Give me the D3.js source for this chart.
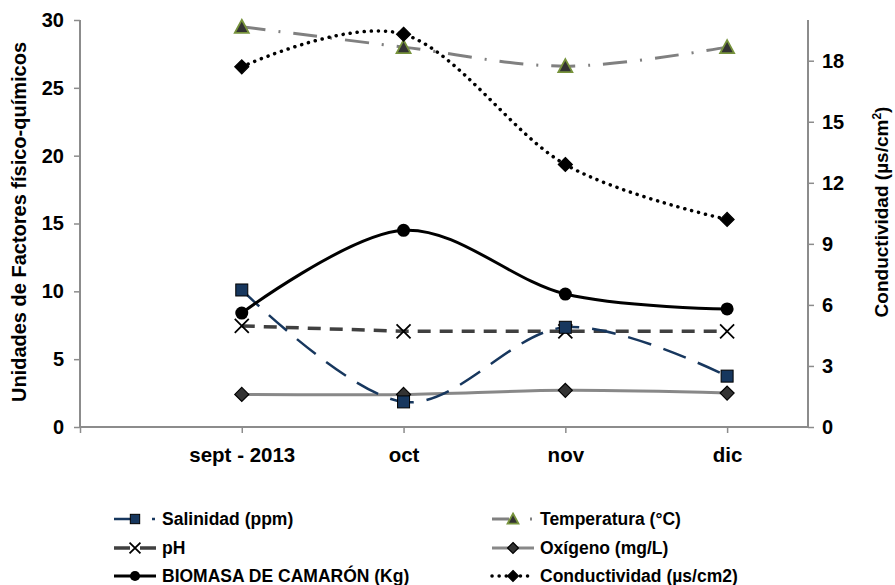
<!DOCTYPE html>
<html><head><meta charset="utf-8">
<script src="https://cdn.jsdelivr.net/npm/d3@7"></script>
<style>body{margin:0;background:#fff}svg text{font-family:"Liberation Sans",Arial,sans-serif;font-weight:bold}</style>
</head><body><svg id="c" width="895" height="585"></svg>
<script>
const categories = ["sept - 2013","oct","nov","dic"];
const salinidad = [10.1,1.85,7.35,3.75];
const temperatura = [29.5,28.0,26.6,28.0];
const ph = [7.45,7.05,7.05,7.05];
const oxigeno = [2.4,2.4,2.7,2.5];
const biomasa = [8.4,14.5,9.8,8.7];
const conductividad = [17.7,19.3,12.9,10.2];
const leftTicks = [0,5,10,15,20,25,30];
const rightTicks = [0,3,6,9,12,15,18];

const svg = d3.select("#c");
const x = d3.scaleLinear().domain([0,4.5]).range([80,808]);
const yL = d3.scaleLinear().domain([0,30]).range([427,20]);
const yR = d3.scaleLinear().domain([0,20]).range([427,20]);

const axisColor="#8c8c8c";
const gL = svg.append("g").attr("transform","translate(80,0)")
  .call(d3.axisLeft(yL).tickValues(leftTicks).tickSize(6).tickPadding(10));
const gR = svg.append("g").attr("transform","translate(808,0)")
  .call(d3.axisRight(yR).tickValues(rightTicks).tickSize(6).tickPadding(8));
const gX = svg.append("g").attr("transform","translate(0,427)")
  .call(d3.axisBottom(x).tickValues([0,1,2,3,4]).tickSize(6).tickPadding(14)
    .tickFormat(d=> d>=1 ? categories[d-1] : ""));
[gL,gR,gX].forEach(g=>{
  g.select(".domain").attr("stroke",axisColor).attr("stroke-width",2);
  g.selectAll(".tick line").attr("stroke",axisColor).attr("stroke-width",1.5);
  g.selectAll("text").attr("fill","#000").style("font-size","20px").style("font-weight","bold");
});
gX.selectAll("text").style("font-size","20.5px");
gL.select(".domain").attr("d","M0,20V427");
gR.select(".domain").attr("d","M0,20V427");
gX.select(".domain").attr("d","M80,0H808");

svg.append("text").attr("transform","translate(26,222) rotate(-90)")
  .attr("text-anchor","middle").style("font-size","20px").text("Unidades de Factores físico-químicos");
const rt = svg.append("text").attr("transform","translate(888,212) rotate(-90)")
  .attr("text-anchor","middle").style("font-size","19px");
rt.append("tspan").text("Conductividad (µs/cm");
rt.append("tspan").attr("dy",-7).style("font-size","12px").text("2");
rt.append("tspan").attr("dy",7).text(")");

const smooth = d3.curveCatmullRom.alpha(0);
const series = [
  {name:"Salinidad (ppm)", data:salinidad, y:yL, color:"#17375e", width:2.5, dash:"24,13", ldash:"17,21,3,10", curve:smooth, marker:"square", mfill:"#17375e", mstroke:"#000"},
  {name:"Temperatura (°C)", data:temperatura, y:yL, color:"#808080", width:3, dash:"24,13,2,13", ldash:"17,21,2,10", curve:smooth, marker:"triangle", mfill:"#333", mstroke:"#77933c"},
  {name:"pH", data:ph, y:yL, color:"#404040", width:3.5, dash:"13,9", ldash:"16,10,16", curve:d3.curveLinear, marker:"x", mfill:"none", mstroke:"#000"},
  {name:"Oxígeno (mg/L)", data:oxigeno, y:yL, color:"#888888", width:3, dash:null, ldash:null, curve:smooth, marker:"diamond", mfill:"#333", mstroke:"#000"},
  {name:"BIOMASA DE CAMARÓN (Kg)", data:biomasa, y:yL, color:"#000", width:3, dash:null, ldash:null, curve:smooth, marker:"circle", mfill:"#000", mstroke:"#000"},
  {name:"Conductividad (µs/cm2)", data:conductividad, y:yR, color:"#000", width:3.5, dash:"0.1,7", ldash:"0.1,7", cap:"round", curve:smooth, marker:"diamond", mfill:"#000", mstroke:"#000"}
];

function marker(g, type, cx, cy, s, k){
  k = k||1;
  if(type==="square") g.append("rect").attr("x",cx-6*k).attr("y",cy-6*k).attr("width",12*k).attr("height",12*k).attr("fill",s.mfill).attr("stroke",s.mstroke).attr("stroke-width",1);
  else if(type==="triangle") g.append("path").attr("d",`M${cx},${cy-7*k}L${cx+7*k},${cy+6*k}L${cx-7*k},${cy+6*k}Z`).attr("fill",s.mfill).attr("stroke",s.mstroke).attr("stroke-width",1.8);
  else if(type==="x") g.append("path").attr("d",`M${cx-7*k},${cy-7*k}L${cx+7*k},${cy+7*k}M${cx+7*k},${cy-7*k}L${cx-7*k},${cy+7*k}`).attr("stroke","#000").attr("stroke-width",1.8).attr("fill","none");
  else if(type==="diamond") g.append("path").attr("d",`M${cx},${cy-7*k}L${cx+7*k},${cy}L${cx},${cy+7*k}L${cx-7*k},${cy}Z`).attr("fill",s.mfill).attr("stroke",s.mstroke).attr("stroke-width",1.2);
  else if(type==="circle") g.append("circle").attr("cx",cx).attr("cy",cy).attr("r",6.5*k).attr("fill",s.mfill);
}

const order = [3,2,0,4,1,5];
order.forEach(i=>{
  const s = series[i];
  const line = d3.line().x((d,j)=>x(j+1)).y(d=>s.y(d)).curve(s.curve);
  svg.append("path").datum(s.data).attr("d",line).attr("fill","none")
    .attr("stroke",s.color).attr("stroke-width",s.width)
    .attr("stroke-dasharray",s.dash).attr("stroke-linecap",s.cap||"butt");
});
order.forEach(i=>{
  const s = series[i];
  const g = svg.append("g");
  s.data.forEach((d,j)=>marker(g,s.marker,x(j+1),s.y(d),s));
});

// legend
const legPos = [[114,519],[492,519],[114,548],[492,548],[114,576],[492,576]];
series.forEach((s,i)=>{
  const [lx,ly] = legPos[i];
  const g = svg.append("g");
  g.append("line").attr("x1",lx).attr("x2",lx+42).attr("y1",ly).attr("y2",ly)
    .attr("stroke",s.color).attr("stroke-width",s.width)
    .attr("stroke-dasharray",s.ldash).attr("stroke-linecap",s.cap||"butt");
  marker(g,s.marker,lx+21,ly,s,0.78);
  g.append("text").attr("x",lx+48).attr("y",ly+6).style("font-size","17.5px").text(s.name);
});
</script></body></html>
